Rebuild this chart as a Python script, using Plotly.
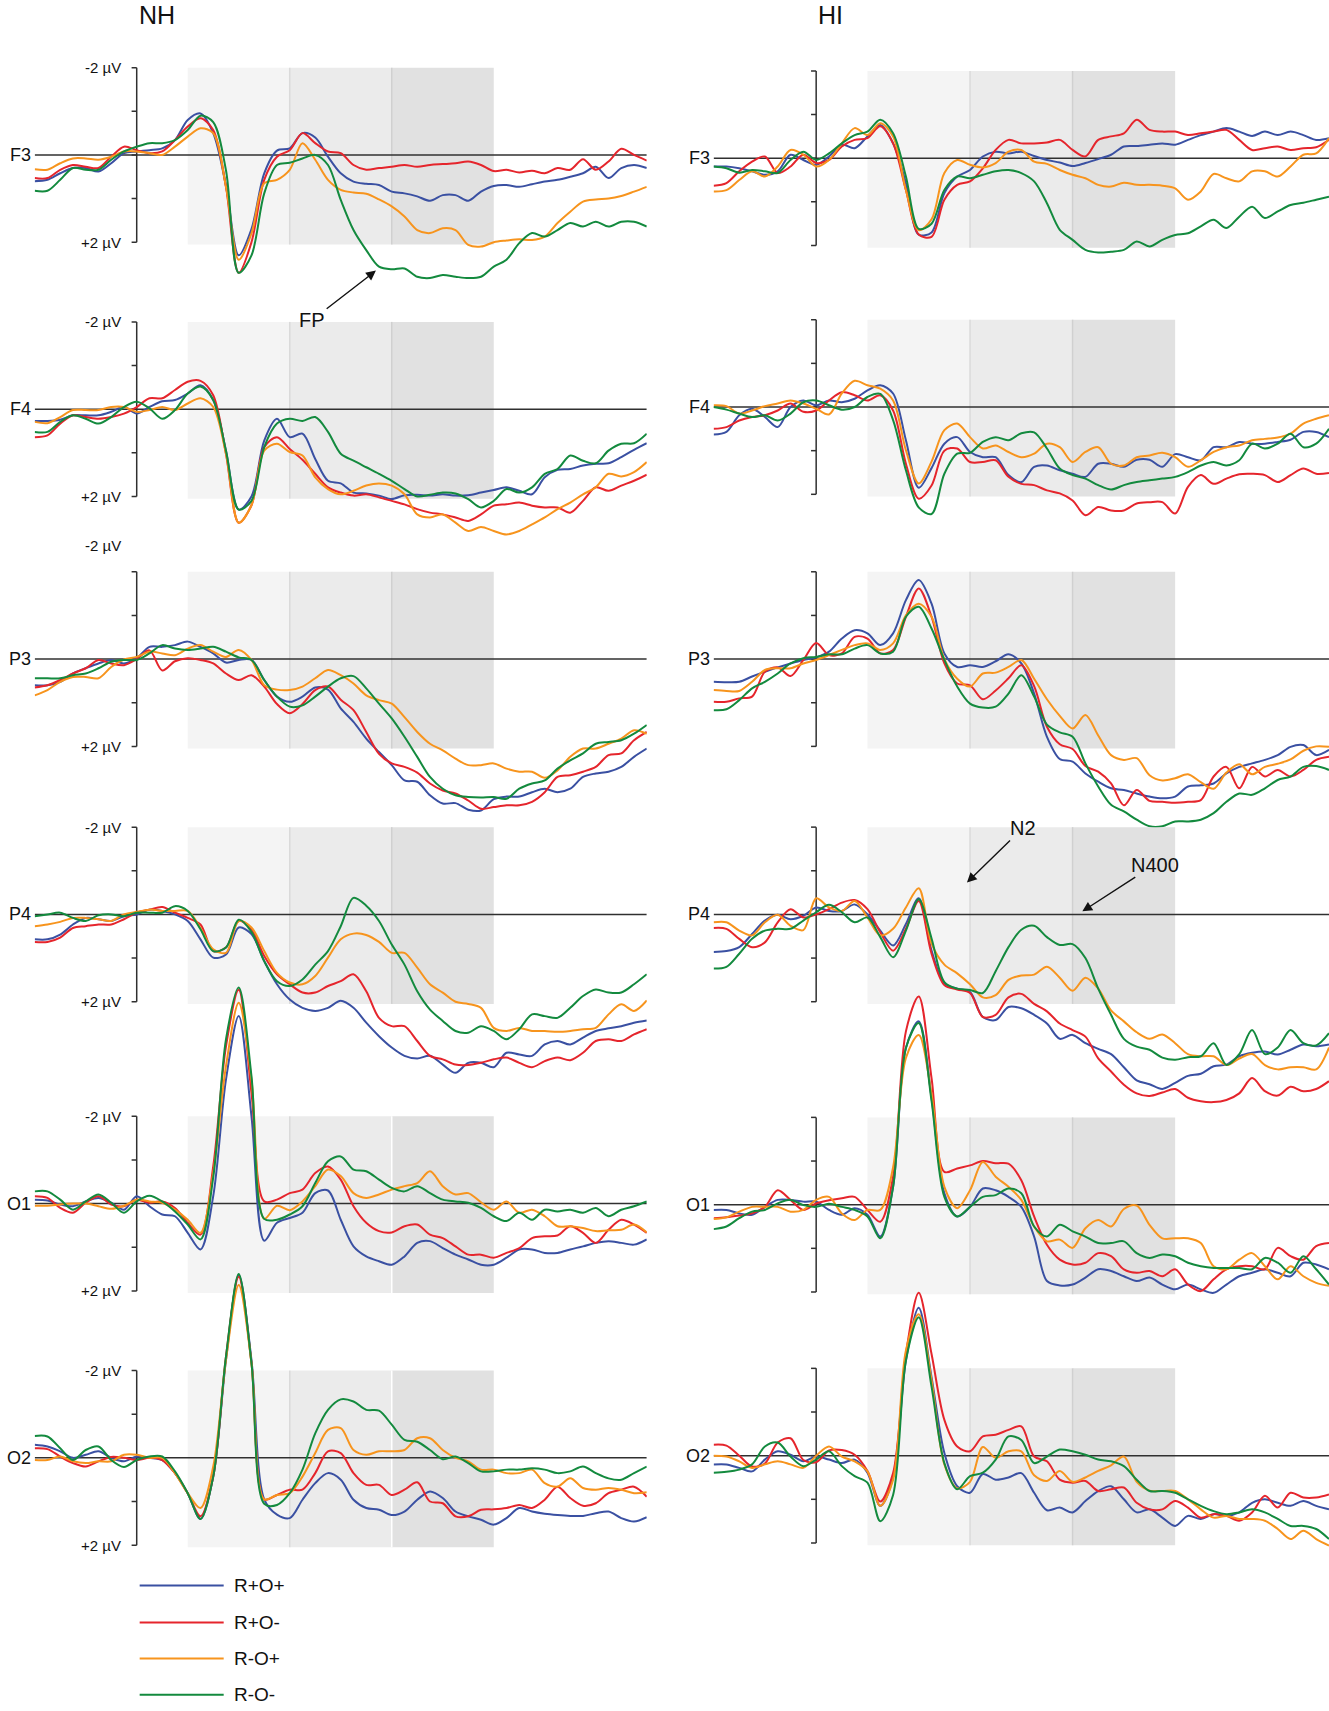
import plotly.graph_objects as go

# ERP grand averages, -200..1000 ms, one value every 25 ms (µV, negative up)
times = list(range(-200, 1001, 25))
conditions = ["R+O+", "R+O-", "R-O+", "R-O-"]
colors = ["#3a50a2", "#e5252c", "#f7941d", "#138a3e"]
channels = ["F3", "F4", "P3", "P4", "O1", "O2"]
groups = ["NH", "HI"]
windows = [100, 300, 500, 700]
window_fill = ["#f4f4f4", "#ebebeb", "#e1e1e1"]

# ---- NH F3
nh_f3_pp = [0.6, 0.57, 0.42, 0.3, 0.3, 0.38, 0.19, -0.04, -0.08,
            -0.11, -0.15, -0.34, -0.8, -0.95, -0.5, 0.7, 2.3,
            1.7, 0.42, -0.1, -0.15, -0.5, -0.4, 0.04, 0.42,
            0.61, 0.66, 0.69, 0.84, 0.88, 0.95, 1.05, 0.92,
            0.92, 1.05, 0.84, 0.71, 0.69, 0.73, 0.67, 0.61,
            0.57, 0.5, 0.42, 0.27, 0.53, 0.3, 0.23, 0.3]
nh_f3_pm = [0.53, 0.53, 0.34, 0.23, 0.27, 0.3, 0.04, -0.19, -0.11,
            -0.04, -0.08, -0.34, -0.65, -0.84, -0.57, 0.73, 2.7,
            2.0, 0.57, 0.04, -0.11, -0.5, -0.27, -0.08, -0.04,
            0.23, 0.34, 0.3, 0.27, 0.23, 0.27, 0.23, 0.21,
            0.19, 0.15, 0.23, 0.37, 0.34, 0.4, 0.36, 0.42,
            0.3, 0.34, 0.1, 0.34, 0.15, -0.14, 0.0, 0.13]
nh_f3_mp = [0.33, 0.34, 0.19, 0.08, 0.08, 0.11, 0.04, -0.08, -0.08,
            -0.04, 0.0, -0.19, -0.42, -0.61, -0.5, 0.73, 2.4,
            1.8, 0.65, 0.57, 0.34, -0.27, 0.11, 0.57, 0.8,
            0.86, 0.89, 1.02, 1.18, 1.41, 1.72, 1.79, 1.68,
            1.72, 2.06, 2.1, 2.0, 1.96, 1.93, 1.95, 1.87,
            1.56, 1.3, 1.07, 1.02, 1.0, 0.94, 0.84, 0.73]
nh_f3_mm = [0.82, 0.82, 0.57, 0.3, 0.34, 0.34, 0.11, -0.08, -0.19,
            -0.27, -0.27, -0.34, -0.57, -0.9, -0.75, 0.35, 2.7,
            2.3, 0.88, 0.23, 0.18, 0.08, 0.0, 0.23, 1.03,
            1.72, 2.18, 2.56, 2.62, 2.6, 2.79, 2.82, 2.75,
            2.79, 2.82, 2.79, 2.56, 2.4, 2.02, 1.79, 1.87,
            1.72, 1.56, 1.64, 1.53, 1.64, 1.53, 1.53, 1.64]

# ---- HI F3
hi_f3_pp = [0.19, 0.19, 0.23, 0.3, 0.38, 0.3, -0.08, 0.04, 0.15,
            -0.04, -0.31, -0.23, -0.5, -0.76, -0.34, 0.57, 1.75,
            1.7, 0.8, 0.42, 0.27, -0.04, -0.15, -0.11, -0.15,
            -0.05, 0.04, 0.1, 0.18, 0.11, 0.02, -0.08, -0.27,
            -0.28, -0.31, -0.34, -0.31, -0.42, -0.53, -0.61, -0.69,
            -0.61, -0.51, -0.61, -0.53, -0.61, -0.53, -0.42, -0.46]
hi_f3_pm = [0.63, 0.57, 0.3, 0.08, -0.04, 0.34, 0.19, -0.08, 0.11,
            0.04, -0.27, -0.42, -0.46, -0.73, -0.34, 0.73, 1.75,
            1.8, 0.95, 0.61, 0.53, 0.23, -0.19, -0.42, -0.34,
            -0.34, -0.36, -0.42, -0.19, -0.04, -0.42, -0.5, -0.57,
            -0.88, -0.65, -0.61, -0.61, -0.53, -0.57, -0.61, -0.65,
            -0.42, -0.19, -0.23, -0.27, -0.19, -0.23, -0.25, -0.42]
hi_f3_mp = [0.76, 0.73, 0.5, 0.3, 0.42, 0.19, -0.19, -0.08, 0.19,
            0.04, -0.34, -0.69, -0.53, -0.8, -0.5, 0.73, 1.65,
            1.4, 0.34, 0.04, 0.15, 0.21, 0.11, -0.15, -0.19,
            0.08, 0.13, 0.27, 0.38, 0.46, 0.61, 0.65, 0.56,
            0.61, 0.61, 0.63, 0.69, 0.95, 0.76, 0.36, 0.46,
            0.53, 0.3, 0.3, 0.42, 0.19, -0.08, -0.11, -0.46]
hi_f3_mm = [0.19, 0.23, 0.33, 0.27, 0.3, 0.34, 0.04, -0.15, 0.04,
            -0.11, -0.34, -0.53, -0.61, -0.88, -0.57, 0.42, 1.62,
            1.5, 0.73, 0.42, 0.46, 0.38, 0.3, 0.27, 0.34,
            0.53, 1.03, 1.64, 1.87, 2.1, 2.16, 2.14, 2.1,
            1.91, 2.02, 1.87, 1.76, 1.72, 1.56, 1.41, 1.6,
            1.34, 1.11, 1.37, 1.22, 1.07, 1.02, 0.95, 0.88]

# ---- NH F4
nh_f4_pp = [0.27, 0.27, 0.24, 0.14, 0.14, 0.14, 0.06, -0.05, 0.1,
            -0.05, -0.18, -0.21, -0.36, -0.55, -0.21, 0.95, 2.3,
            2.0, 0.72, 0.22, 0.64, 0.56, 1.14, 1.64, 1.7,
            1.91, 1.93, 1.98, 2.06, 1.97, 1.96, 1.98, 1.95,
            1.98, 1.97, 1.91, 1.85, 1.79, 1.87, 1.95, 1.56,
            1.39, 1.37, 1.29, 1.25, 1.24, 1.1, 0.93, 0.78]
nh_f4_pm = [0.64, 0.6, 0.33, 0.14, 0.18, 0.22, 0.18, 0.1, -0.05,
            -0.25, -0.25, -0.44, -0.63, -0.65, -0.32, 1.02, 2.6,
            2.2, 0.87, 0.64, 0.91, 1.16, 1.48, 1.79, 1.91,
            1.98, 1.95, 2.02, 2.1, 2.18, 2.29, 2.37, 2.41,
            2.48, 2.56, 2.41, 2.21, 2.18, 2.14, 2.21, 2.25,
            2.25, 2.37, 2.1, 1.79, 1.87, 1.75, 1.64, 1.5]
nh_f4_mp = [0.29, 0.32, 0.18, 0.02, 0.02, 0.02, -0.05, -0.05, 0.06,
            0.02, -0.05, 0.02, -0.13, -0.25, -0.05, 1.02, 2.6,
            2.2, 0.95, 0.79, 0.98, 1.06, 1.56, 1.83, 1.95,
            1.87, 1.75, 1.7, 1.75, 1.95, 2.41, 2.48, 2.41,
            2.6, 2.79, 2.7, 2.79, 2.87, 2.79, 2.64, 2.48,
            2.29, 2.14, 1.95, 1.79, 1.48, 1.54, 1.44, 1.21]
nh_f4_mm = [0.52, 0.52, 0.29, 0.14, 0.22, 0.33, 0.18, -0.05, -0.17,
            -0.02, 0.22, 0.02, -0.36, -0.52, -0.21, 0.95, 2.3,
            2.1, 0.87, 0.33, 0.22, 0.27, 0.18, 0.52, 1.02,
            1.18, 1.33, 1.48, 1.64, 1.83, 2.0, 1.96, 1.91,
            1.93, 2.06, 2.25, 2.1, 1.83, 1.91, 1.79, 1.48,
            1.37, 1.06, 1.18, 1.24, 0.95, 0.79, 0.78, 0.56]

# ---- HI F4
hi_f4_pp = [0.63, 0.57, 0.19, 0.04, 0.23, 0.46, 0.0, -0.15, -0.04,
            -0.15, -0.11, -0.19, -0.38, -0.5, -0.31, 0.76, 1.85,
            1.4, 0.84, 0.69, 1.03, 1.15, 1.15, 1.56, 1.72,
            1.37, 1.34, 1.45, 1.53, 1.6, 1.3, 1.3, 1.37,
            1.21, 1.21, 1.37, 1.08, 1.15, 1.22, 0.92, 0.92,
            0.8, 0.84, 0.84, 0.8, 0.75, 0.57, 0.57, 0.69]
hi_f4_pm = [0.5, 0.46, 0.31, 0.23, 0.19, 0.08, -0.08, 0.11, 0.08,
            -0.15, -0.34, -0.27, -0.15, -0.27, 0.08, 1.3, 2.1,
            1.8, 1.0, 0.95, 1.26, 1.26, 1.22, 1.6, 1.76,
            1.79, 1.91, 1.98, 2.14, 2.48, 2.29, 2.37, 2.37,
            2.21, 2.18, 2.18, 2.44, 1.83, 1.56, 1.76, 1.64,
            1.54, 1.53, 1.56, 1.72, 1.56, 1.41, 1.53, 1.51]
hi_f4_mp = [-0.04, -0.02, 0.15, 0.08, -0.02, -0.08, -0.15, -0.08, 0.04,
            0.17, -0.31, -0.6, -0.5, -0.42, -0.15, 0.99, 1.75,
            1.25, 0.53, 0.38, 0.69, 0.95, 0.88, 1.03, 1.15,
            1.07, 0.84, 0.92, 1.26, 1.03, 0.92, 1.3, 1.34,
            1.15, 1.11, 1.05, 1.15, 1.37, 1.22, 1.03, 0.92,
            0.88, 0.76, 0.73, 0.7, 0.61, 0.38, 0.27, 0.19]
hi_f4_mm = [0.0, 0.06, 0.15, 0.23, 0.19, 0.31, 0.15, -0.11, -0.15,
            -0.04, 0.06, 0.0, -0.23, -0.3, 0.3, 1.45, 2.3,
            2.45, 1.53, 1.07, 1.05, 0.8, 0.69, 0.76, 0.6,
            0.58, 0.95, 1.41, 1.56, 1.64, 1.79, 1.89, 1.79,
            1.72, 1.68, 1.64, 1.6, 1.49, 1.34, 1.26, 1.34,
            1.22, 0.84, 0.95, 0.84, 0.61, 0.92, 0.84, 0.5]

# ---- NH P3
nh_p3_pp = [0.6, 0.6, 0.52, 0.33, 0.21, 0.1, 0.02, 0.1, -0.02,
            -0.28, -0.28, -0.32, -0.4, -0.28, -0.13, 0.08, 0.02,
            0.02, 0.48, 0.86, 0.98, 0.86, 0.65, 0.7, 1.13,
            1.44, 1.82, 2.13, 2.43, 2.78, 2.81, 3.12, 3.31,
            3.3, 3.45, 3.47, 3.21, 3.15, 3.15, 3.05, 2.97,
            3.05, 2.97, 2.7, 2.62, 2.58, 2.47, 2.24, 2.05]
nh_p3_pm = [0.65, 0.6, 0.48, 0.33, 0.21, 0.02, 0.1, 0.14, 0.0,
            -0.2, 0.26, 0.05, -0.02, 0.02, 0.1, 0.33, 0.48,
            0.37, 0.63, 1.03, 1.24, 1.03, 0.71, 0.63, 0.93,
            1.17, 1.67, 2.17, 2.39, 2.47, 2.6, 2.85, 3.01,
            3.08, 3.24, 3.43, 3.39, 3.35, 3.35, 3.27, 3.05,
            2.7, 2.66, 2.58, 2.47, 2.2, 2.16, 1.86, 1.67]
nh_p3_mp = [0.83, 0.71, 0.52, 0.41, 0.41, 0.44, 0.18, 0.01, -0.05,
            -0.17, -0.13, -0.09, -0.24, -0.32, -0.17, -0.05, -0.21,
            0.02, 0.6, 0.7, 0.71, 0.63, 0.44, 0.25, 0.37,
            0.56, 0.83, 0.94, 1.02, 1.33, 1.67, 1.94, 2.09,
            2.28, 2.43, 2.43, 2.39, 2.51, 2.58, 2.58, 2.72,
            2.55, 2.24, 2.05, 2.05, 1.94, 1.82, 1.63, 1.71]
nh_p3_mm = [0.44, 0.44, 0.44, 0.37, 0.33, 0.21, 0.06, 0.02, 0.02,
            -0.13, -0.32, -0.24, -0.21, -0.24, -0.28, -0.17, -0.04,
            0.02, 0.48, 0.86, 1.09, 1.06, 0.86, 0.63, 0.44,
            0.39, 0.67, 1.02, 1.36, 1.78, 2.24, 2.7, 2.97,
            3.12, 3.16, 3.17, 3.16, 3.2, 2.97, 2.85, 2.78,
            2.51, 2.32, 2.16, 1.94, 1.9, 1.86, 1.71, 1.51]

# ---- HI P3
hi_p3_pp = [0.52, 0.53, 0.52, 0.4, 0.29, 0.19, 0.1, 0.02, -0.04,
            -0.17, -0.47, -0.66, -0.59, -0.32, -0.59, -1.35, -1.81,
            -1.27, -0.13, 0.18, 0.14, 0.18, 0.05, -0.11, 0.1,
            0.79, 1.78, 2.29, 2.35, 2.62, 2.81, 2.96, 3.0,
            3.08, 3.15, 3.19, 3.15, 2.92, 2.89, 2.85, 2.62,
            2.47, 2.39, 2.31, 2.2, 2.01, 1.97, 2.2, 2.08]
hi_p3_pm = [0.98, 0.98, 0.9, 0.86, 0.29, 0.19, 0.39, 0.02, -0.37,
            -0.09, -0.13, -0.51, -0.47, -0.13, -0.21, -0.97, -1.62,
            -0.97, 0.1, 0.56, 0.6, 0.92, 0.72, 0.44, 0.14,
            0.62, 1.55, 1.95, 2.06, 2.45, 2.58, 2.85, 3.35,
            3.0, 3.25, 3.27, 3.29, 3.27, 3.23, 2.69, 2.47,
            2.96, 2.47, 2.69, 2.54, 2.69, 2.54, 2.31, 2.24]
hi_p3_mp = [0.71, 0.73, 0.73, 0.52, 0.25, 0.21, 0.21, 0.1, 0.02,
            -0.09, -0.21, -0.32, -0.36, -0.21, -0.36, -1.0, -1.27,
            -0.97, 0.0, 0.45, 0.63, 0.33, 0.31, 0.18, 0.02,
            0.45, 0.92, 1.3, 1.59, 1.28, 1.75, 2.2, 2.31,
            2.27, 2.66, 2.78, 2.73, 2.64, 2.82, 2.97, 2.6,
            2.41, 2.64, 2.47, 2.4, 2.3, 2.1, 2.0, 2.01]
hi_p3_mm = [1.17, 1.15, 0.94, 0.67, 0.52, 0.33, 0.1, -0.02, -0.05,
            -0.11, -0.11, -0.24, -0.32, -0.13, -0.17, -0.97, -1.2,
            -0.7, 0.02, 0.63, 1.02, 1.11, 1.09, 0.79, 0.37,
            0.86, 1.5, 1.68, 1.78, 2.39, 2.92, 3.34, 3.49,
            3.68, 3.83, 3.83, 3.72, 3.72, 3.68, 3.53, 3.27,
            3.08, 3.11, 2.96, 2.77, 2.69, 2.47, 2.45, 2.54]

# ---- NH P4
nh_p4_pp = [0.57, 0.57, 0.46, 0.23, 0.08, 0.11, 0.15, 0.04, 0.0,
            -0.11, -0.08, 0.0, 0.15, 0.57, 0.99, 0.92, 0.3,
            0.45, 1.07, 1.6, 1.95, 2.14, 2.21, 2.14, 1.98,
            2.14, 2.48, 2.79, 3.05, 3.24, 3.3, 3.24, 3.44,
            3.63, 3.4, 3.4, 3.5, 3.17, 3.21, 3.24, 2.98,
            2.9, 2.98, 2.82, 2.67, 2.61, 2.56, 2.48, 2.43]
nh_p4_pm = [0.63, 0.63, 0.53, 0.31, 0.27, 0.23, 0.23, 0.11, -0.04,
            -0.11, -0.17, -0.04, 0.08, 0.23, 0.84, 0.76, 0.15,
            0.35, 0.95, 1.37, 1.6, 1.79, 1.79, 1.64, 1.53,
            1.37, 1.76, 2.37, 2.56, 2.56, 2.9, 3.24, 3.32,
            3.44, 3.45, 3.4, 3.32, 3.28, 3.4, 3.5, 3.36,
            3.28, 3.34, 3.17, 2.9, 2.86, 2.9, 2.75, 2.63]
nh_p4_mp = [0.27, 0.23, 0.17, 0.08, 0.08, 0.11, 0.15, 0.0, -0.06,
            -0.11, -0.08, -0.08, -0.08, 0.31, 0.8, 0.88, 0.15,
            0.3, 0.84, 1.34, 1.56, 1.6, 1.41, 0.99, 0.57,
            0.44, 0.47, 0.63, 0.88, 0.88, 1.22, 1.6, 1.79,
            2.0, 2.05, 2.14, 2.6, 2.67, 2.6, 2.67, 2.67,
            2.69, 2.67, 2.63, 2.6, 2.29, 2.06, 2.21, 1.97]
nh_p4_mm = [0.04, 0.0, -0.04, 0.08, 0.15, 0.02, 0.0, 0.04, -0.04,
            -0.04, -0.04, -0.19, -0.08, 0.34, 0.84, 0.76, 0.12,
            0.4, 1.07, 1.53, 1.64, 1.49, 1.15, 0.84, 0.27,
            -0.38, -0.2, 0.15, 0.69, 1.15, 1.76, 2.18, 2.44,
            2.67, 2.71, 2.56, 2.67, 2.86, 2.63, 2.29, 2.33,
            2.37, 2.14, 1.87, 1.72, 1.79, 1.79, 1.6, 1.37]

# ---- HI P4
hi_p4_pp = [0.86, 0.84, 0.75, 0.45, 0.14, 0.01, 0.11, 0.03, -0.16,
            -0.08, -0.08, -0.23, 0.0, 0.37, 0.71, 0.22, -0.37,
            0.83, 1.58, 1.7, 1.78, 2.35, 2.42, 2.12, 2.15,
            2.3, 2.5, 2.85, 2.76, 2.95, 3.08, 3.2, 3.5,
            3.8, 3.89, 4.0, 3.86, 3.7, 3.65, 3.48, 3.44,
            3.25, 3.17, 3.14, 3.21, 3.1, 2.98, 3.02, 2.98]
hi_p4_pm = [0.31, 0.33, 0.56, 0.75, 0.64, 0.18, -0.12, 0.07, 0.0,
            -0.12, -0.27, -0.33, -0.12, 0.41, 0.83, 0.33, -0.31,
            0.9, 1.62, 1.72, 1.8, 2.35, 2.3, 1.9, 1.82,
            2.05, 2.22, 2.5, 2.65, 2.8, 3.3, 3.6, 3.9,
            4.1, 4.16, 4.08, 4.0, 4.2, 4.28, 4.3, 4.25,
            4.1, 3.75, 4.05, 4.15, 3.95, 4.05, 4.0, 3.82]
hi_p4_mp = [0.18, 0.18, 0.37, 0.48, 0.18, 0.01, 0.26, 0.36, -0.37,
            -0.16, -0.08, -0.31, 0.07, 0.48, 0.33, -0.16, -0.6,
            0.67, 1.15, 1.35, 1.6, 1.9, 1.85, 1.5, 1.4,
            1.38, 1.2, 1.45, 1.75, 1.45, 1.7, 2.2, 2.45,
            2.7, 2.85, 2.75, 2.95, 3.2, 3.25, 3.25, 3.45,
            3.3, 3.2, 3.45, 3.55, 3.5, 3.5, 3.55, 3.05]
hi_p4_mm = [1.24, 1.2, 0.9, 0.56, 0.37, 0.33, 0.33, 0.14, -0.05,
            -0.22, -0.05, 0.18, 0.07, 0.52, 0.98, 0.37, -0.35,
            0.55, 1.55, 1.7, 1.73, 1.8, 1.3, 0.75, 0.35,
            0.26, 0.52, 0.7, 0.68, 1.0, 1.7, 2.3, 2.85,
            3.03, 3.1, 3.28, 3.33, 3.27, 3.25, 2.95, 3.45,
            3.2, 2.65, 3.2, 3.05, 2.65, 2.95, 3.0, 2.72]

# ---- NH O1
nh_o1_pp = [-0.09, -0.07, 0.02, 0.06, -0.05, -0.13, -0.02, 0.14, -0.17,
            0.06, 0.25, 0.29, 0.67, 1.05, -0.17, -2.84, -4.3,
            -2.0, 0.85, 0.44, 0.33, 0.21, -0.24, -0.3, 0.37,
            0.98, 1.21, 1.32, 1.4, 1.21, 0.9, 0.86, 1.02,
            1.17, 1.28, 1.4, 1.4, 1.24, 1.05, 1.05, 1.13,
            1.13, 1.05, 0.98, 0.9, 0.86, 0.9, 0.94, 0.82]
nh_o1_pm = [-0.17, -0.13, 0.1, 0.21, -0.02, -0.17, 0.02, 0.06, -0.09,
            -0.02, -0.05, 0.1, 0.44, 0.71, -0.85, -3.6, -4.9,
            -2.53, -0.05, -0.09, -0.24, -0.32, -0.7, -0.85, -0.55,
            0.06, 0.44, 0.63, 0.66, 0.52, 0.48, 0.71, 0.79,
            0.98, 1.17, 1.17, 1.24, 1.13, 1.02, 0.79, 0.75,
            0.73, 0.52, 0.67, 0.9, 0.6, 0.37, 0.48, 0.67]
nh_o1_mp = [0.05, 0.05, 0.02, 0.0, 0.0, 0.06, 0.12, 0.05, -0.09,
            -0.05, -0.02, 0.14, 0.37, 0.67, -0.7, -3.15, -4.6,
            -2.84, 0.35, 0.05, 0.15, -0.05, -0.4, -0.78, -0.63,
            -0.24, -0.13, -0.21, -0.32, -0.4, -0.47, -0.74, -0.4,
            -0.21, -0.24, -0.03, 0.14, -0.05, 0.21, 0.14, 0.29,
            0.52, 0.52, 0.56, 0.63, 0.61, 0.6, 0.48, 0.66]
nh_o1_mm = [-0.28, -0.28, -0.09, 0.14, -0.05, -0.21, -0.02, 0.21, -0.05,
            -0.18, -0.05, 0.18, 0.48, 0.82, -0.6, -3.76, -4.95,
            -2.92, 0.35, 0.37, 0.25, 0.06, -0.47, -0.97, -1.08,
            -0.78, -0.74, -0.55, -0.36, -0.28, -0.4, -0.24, -0.09,
            -0.05, -0.02, 0.1, 0.29, 0.4, 0.21, 0.37, 0.14,
            0.18, 0.14, 0.21, 0.1, 0.29, 0.14, 0.06, -0.05]

# ---- HI O1
hi_o1_pp = [0.12, 0.12, 0.2, 0.23, 0.05, -0.11, -0.11, -0.07, -0.07,
            0.12, 0.23, 0.08, 0.23, 0.73, -0.41, -3.59, -4.2,
            -2.45, -0.26, 0.27, 0.05, -0.37, -0.33, -0.18, 0.05,
            0.73, 1.75, 1.85, 1.83, 1.67, 1.48, 1.52, 1.64,
            1.75, 1.67, 1.83, 1.94, 1.83, 1.94, 2.02, 1.83,
            1.64, 1.56, 1.48, 1.56, 1.64, 1.33, 1.37, 1.48]
hi_o1_pm = [0.31, 0.29, 0.25, 0.2, 0.05, -0.33, -0.11, 0.12, -0.03,
            -0.1, -0.15, -0.18, 0.12, 0.39, -0.64, -3.97, -4.77,
            -2.9, -0.75, -0.83, -0.9, -1.0, -0.95, -0.94, -0.56,
            0.27, 0.92, 1.26, 1.37, 1.33, 1.11, 1.18, 1.48,
            1.56, 1.52, 1.64, 1.48, 1.83, 1.98, 1.71, 1.48,
            1.41, 1.41, 1.48, 0.99, 1.18, 1.26, 0.95, 0.88]
hi_o1_mp = [0.33, 0.29, 0.16, 0.05, 0.05, 0.05, 0.16, 0.12, -0.11,
            -0.18, 0.2, 0.35, 0.12, 0.12, -0.86, -3.36, -3.89,
            -2.53, -0.41, 0.08, -0.33, -0.98, -0.64, -0.41, -0.11,
            0.5, 0.84, 0.8, 0.99, 0.54, 0.35, 0.5, 0.1,
            0.02, 0.46, 0.77, 0.77, 0.77, 0.88, 1.41, 1.48,
            1.26, 1.11, 1.41, 1.71, 1.41, 1.64, 1.79, 1.86]
hi_o1_mm = [0.56, 0.5, 0.31, 0.16, 0.12, -0.03, -0.11, 0.01, 0.05,
            -0.02, 0.05, 0.12, 0.27, 0.77, -0.41, -3.59, -4.16,
            -2.38, -0.18, 0.27, 0.05, -0.18, -0.22, -0.37, -0.26,
            0.5, 0.73, 0.46, 0.61, 0.73, 0.88, 0.88, 0.84,
            1.11, 1.22, 1.14, 1.18, 1.33, 1.41, 1.45, 1.45,
            1.45, 1.48, 1.22, 1.33, 1.56, 1.18, 1.48, 1.83]

# ---- NH O2
nh_o2_pp = [-0.3, -0.26, -0.15, 0.0, -0.07, -0.15, 0.0, 0.08, -0.03,
            0.0, 0.05, 0.35, 0.81, 1.4, 0.43, -2.24, -4.19,
            -2.24, 0.95, 1.3, 1.38, 0.96, 0.58, 0.35, 0.5,
            0.96, 1.15, 1.19, 1.31, 1.23, 0.96, 0.77, 0.92,
            1.23, 1.34, 1.42, 1.53, 1.38, 1.15, 1.23, 1.28,
            1.31, 1.33, 1.33, 1.27, 1.23, 1.38, 1.46, 1.36]
nh_o2_pm = [-0.22, -0.2, -0.03, 0.12, 0.2, 0.08, -0.02, 0.0, 0.05,
            0.0, 0.05, 0.35, 0.81, 1.34, 0.43, -2.32, -4.15,
            -2.17, 0.95, 0.85, 0.73, 0.73, 0.35, -0.15, -0.11,
            0.35, 0.62, 0.62, 0.85, 0.73, 0.56, 1.0, 1.04,
            1.34, 1.34, 1.19, 1.18, 1.15, 1.08, 1.15, 0.96,
            0.66, 0.92, 1.1, 1.04, 0.81, 0.73, 0.66, 0.89]
nh_o2_mp = [0.05, 0.05, -0.03, 0.08, 0.12, 0.08, 0.08, -0.07, -0.07,
            0.0, 0.0, 0.35, 0.81, 1.15, 0.2, -2.24, -3.96,
            -2.17, 0.95, 0.85, 0.81, 0.43, -0.11, -0.64, -0.68,
            -0.18, -0.07, -0.15, -0.15, -0.18, -0.45, -0.45, -0.18,
            0.0, 0.08, 0.27, 0.27, 0.35, 0.35, 0.27, 0.58,
            0.66, 0.47, 0.69, 0.73, 0.69, 0.73, 0.81, 0.79]
nh_o2_mm = [-0.5, -0.49, -0.22, 0.05, -0.18, -0.26, 0.05, 0.21, 0.05,
            -0.03, -0.03, 0.31, 0.81, 1.4, 0.43, -2.32, -4.21,
            -2.17, 1.05, 1.08, 0.81, 0.27, -0.56, -1.1, -1.34,
            -1.29, -1.1, -1.08, -0.76, -0.41, -0.37, -0.18, 0.03,
            -0.03, 0.12, 0.31, 0.31, 0.27, 0.27, 0.24, 0.27,
            0.35, 0.31, 0.2, 0.35, 0.47, 0.5, 0.35, 0.2]

# ---- HI O2
hi_o2_pp = [0.2, 0.2, 0.28, 0.36, 0.09, -0.1, -0.02, 0.13, 0.02,
            0.09, 0.17, 0.09, 0.39, 1.15, 0.5, -2.18, -3.39,
            -1.8, -0.06, 0.7, 0.85, 0.42, 0.55, 0.5, 0.4,
            0.85, 1.25, 1.19, 1.3, 1.04, 0.81, 0.7, 1.0,
            1.3, 1.23, 1.42, 1.61, 1.38, 1.45, 1.34, 1.38,
            1.3, 1.08, 1.0, 1.08, 1.15, 1.04, 1.15, 1.23]
hi_o2_pm = [-0.25, -0.23, 0.0, 0.25, 0.18, -0.3, -0.4, 0.1, 0.15,
            -0.12, -0.13, -0.02, 0.35, 1.05, 0.4, -2.33, -3.73,
            -2.33, -0.82, -0.21, -0.1, -0.44, -0.48, -0.59, -0.67,
            0.02, 0.13, 0.55, 0.62, 0.58, 0.81, 0.77, 0.73,
            1.08, 1.23, 1.23, 1.04, 1.19, 1.42, 1.34, 1.38,
            1.49, 1.3, 0.92, 1.19, 0.85, 0.96, 0.96, 0.89]
hi_o2_mp = [0.0, 0.02, 0.13, 0.28, 0.2, 0.13, 0.2, 0.28, 0.0,
            -0.21, 0.02, 0.13, 0.36, 1.15, 0.55, -2.41, -3.24,
            -1.73, 0.2, 0.75, 0.6, -0.2, 0.05, -0.1, -0.1,
            0.45, 0.58, 0.35, 0.6, 0.5, 0.35, 0.22, 0.02,
            0.6, 0.8, 0.81, 0.81, 1.0, 1.23, 1.42, 1.38,
            1.45, 1.45, 1.49, 1.68, 1.91, 1.72, 1.91, 2.06]
hi_o2_mm = [0.39, 0.37, 0.32, 0.2, -0.21, -0.3, 0.02, 0.24, 0.09,
            -0.1, 0.24, 0.47, 0.62, 1.5, 0.9, -2.18, -3.17,
            -1.58, 0.17, 0.77, 0.47, 0.39, 0.09, -0.44, -0.36,
            0.17, 0.02, -0.14, -0.1, -0.02, 0.09, 0.13, 0.24,
            0.55, 0.81, 0.81, 0.85, 1.0, 1.15, 1.27, 1.34,
            1.3, 1.23, 1.3, 1.45, 1.61, 1.61, 1.68, 1.91]

panels = {
    ("NH", "F3"): [nh_f3_pp, nh_f3_pm, nh_f3_mp, nh_f3_mm],
    ("HI", "F3"): [hi_f3_pp, hi_f3_pm, hi_f3_mp, hi_f3_mm],
    ("NH", "F4"): [nh_f4_pp, nh_f4_pm, nh_f4_mp, nh_f4_mm],
    ("HI", "F4"): [hi_f4_pp, hi_f4_pm, hi_f4_mp, hi_f4_mm],
    ("NH", "P3"): [nh_p3_pp, nh_p3_pm, nh_p3_mp, nh_p3_mm],
    ("HI", "P3"): [hi_p3_pp, hi_p3_pm, hi_p3_mp, hi_p3_mm],
    ("NH", "P4"): [nh_p4_pp, nh_p4_pm, nh_p4_mp, nh_p4_mm],
    ("HI", "P4"): [hi_p4_pp, hi_p4_pm, hi_p4_mp, hi_p4_mm],
    ("NH", "O1"): [nh_o1_pp, nh_o1_pm, nh_o1_mp, nh_o1_mm],
    ("HI", "O1"): [hi_o1_pp, hi_o1_pm, hi_o1_mp, hi_o1_mm],
    ("NH", "O2"): [nh_o2_pp, nh_o2_pm, nh_o2_mp, nh_o2_mm],
    ("HI", "O2"): [hi_o2_pp, hi_o2_pm, hi_o2_mp, hi_o2_mm],
}

# page geometry, measured on a 1218 x 1568 copy of the original
REF_W, REF_H = 1218.0, 1568.0
col_px = {"NH": (31.8, 592.75), "HI": (654.0, 1218.0)}   # t=-200 .. t=1000
zero_px = {"NH": [142, 375, 604, 838, 1103, 1336],
           "HI": [145, 373, 604, 838, 1104, 1334]}
k = 40.0 / REF_H          # paper fraction per µV

FONT = "Liberation Sans, Arial, sans-serif"
AXC = "#303030"

fig = go.Figure()
shapes = []
annots = []
axes = {}
panel_ref = {}

n = 0
for r, ch in enumerate(channels):
    for g in groups:
        n += 1
        sfx = "" if n == 1 else str(n)
        xa, ya = "x" + sfx, "y" + sfx
        panel_ref[(g, ch)] = (xa, ya)
        z = 1 - zero_px[g][r] / REF_H
        top = min(0.999, z + 5.6 * k)
        bot = max(0.001, z - 4.6 * k)
        axes["xaxis" + sfx] = dict(domain=[col_px[g][0] / REF_W, col_px[g][1] / REF_W],
                                   range=[-200, 1000], visible=False, anchor=ya)
        axes["yaxis" + sfx] = dict(domain=[bot, top], range=[(z - bot) / k, -(top - z) / k],
                                   visible=False, anchor=xa)

        # shaded analysis windows
        for i in range(3):
            shapes.append(dict(type="rect", xref=xa, yref=ya, x0=windows[i], x1=windows[i + 1],
                               y0=-2, y1=2.05, fillcolor=window_fill[i], line_width=0, layer="below"))
        occipital_nh = g == "NH" and ch in ("O1", "O2")
        for t, c in ((300, "#dadada"), (500, "#ffffff" if occipital_nh else "#d0d0d0")):
            shapes.append(dict(type="line", xref=xa, yref=ya, x0=t, x1=t, y0=-2, y1=2.05,
                               line=dict(color=c, width=1.5), layer="below"))
        # baseline and amplitude axis
        shapes.append(dict(type="line", xref=xa, yref=ya, x0=-200, x1=1000, y0=0, y1=0,
                           line=dict(color=AXC, width=1.5), layer="below"))
        shapes.append(dict(type="line", xref=xa, yref=ya, x0=0, x1=0, y0=-2, y1=2,
                           line=dict(color=AXC, width=1.5), layer="below"))
        for v in (-2, -1, 0, 1, 2):
            shapes.append(dict(type="line", xref=xa, yref=ya, x0=-10, x1=0, y0=v, y1=v,
                               line=dict(color=AXC, width=1.5), layer="below"))

        for cond, col, vals in zip(conditions, colors, panels[(g, ch)]):
            fig.add_trace(go.Scatter(x=times, y=vals, xaxis=xa, yaxis=ya, mode="lines",
                                     name=cond, showlegend=False, hoverinfo="skip",
                                     line=dict(color=col, width=2.0, shape="spline", smoothing=0.9)))

        annots.append(dict(xref=xa, yref=ya, x=-200, y=0, text=ch, showarrow=False,
                           xanchor="right", yanchor="middle", xshift=-2,
                           font=dict(family=FONT, size=18, color="#111")))
        if g == "NH":
            annots.append(dict(xref=xa, yref=ya, x=-26, y=-2, text="-2 µV", showarrow=False,
                               xanchor="right", yanchor="middle", yshift=26 if ch == "P3" else 0,
                               font=dict(family=FONT, size=15, color="#111")))
            annots.append(dict(xref=xa, yref=ya, x=-26, y=2, text="+2 µV", showarrow=False,
                               xanchor="right", yanchor="middle",
                               font=dict(family=FONT, size=15, color="#111")))

# component labels
arrow_notes = [(("NH", "F3"), "FP", 469, 2.65, 344, 3.78),
               (("HI", "P4"), "N2", 294, -0.73, 403, -1.98),
               (("HI", "P4"), "N400", 519, -0.07, 660, -1.14)]
for key, txt, hx, hy, tx, ty in arrow_notes:
    xa, ya = panel_ref[key]
    annots.append(dict(xref=xa, yref=ya, x=hx, y=hy, axref=xa, ayref=ya, ax=tx, ay=ty,
                       text=txt, showarrow=True, arrowhead=2, arrowsize=1.4, arrowwidth=1.4,
                       arrowcolor="#111", font=dict(family=FONT, size=20, color="#111")))

# column titles
for g, xp in (("NH", 126), ("HI", 748)):
    annots.append(dict(xref="paper", yref="paper", x=xp / REF_W, y=1 - 14 / REF_H, text=g,
                       showarrow=False, xanchor="left", yanchor="middle",
                       font=dict(family=FONT, size=25, color="#111")))

# legend
legend_y = [1453, 1487, 1520, 1553]
for cond, col, yp in zip(conditions, colors, legend_y):
    yy = 1 - yp / REF_H
    shapes.append(dict(type="line", xref="paper", yref="paper", x0=128 / REF_W, x1=205 / REF_W,
                       y0=yy, y1=yy, line=dict(color=col, width=2)))
    annots.append(dict(xref="paper", yref="paper", x=213 / REF_W, y=yy, text=cond,
                       showarrow=False, xanchor="left", yanchor="middle",
                       font=dict(family=FONT, size=19, color="#111")))

fig.update_layout(width=1329, height=1711, margin=dict(l=0, r=0, t=0, b=0),
                  paper_bgcolor="white", plot_bgcolor="rgba(0,0,0,0)",
                  shapes=shapes, annotations=annots, showlegend=False, **axes)

# drop the browser's default 8px body margin so the figure sits at the page corner
fig.write_html("out.html", config={"displayModeBar": False},
               post_script="document.body.style.margin='0px';")
